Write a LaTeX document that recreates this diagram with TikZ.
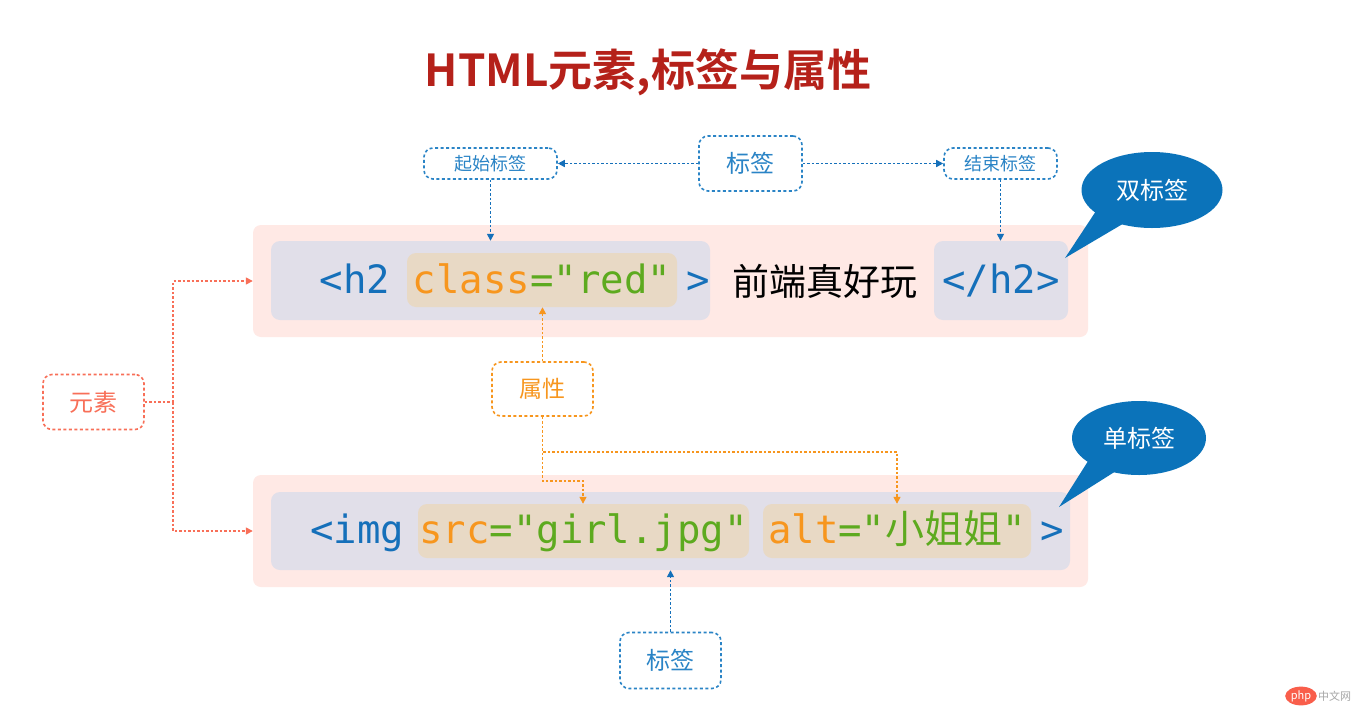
\documentclass[tikz,border=0pt]{standalone}
\usepackage{fontspec}
\setmainfont{Noto Sans CJK SC}[BoldFont={Noto Sans CJK SC Bold}]
\newfontfamily\cjkf{Noto Sans CJK SC}
\newfontfamily\mono{DejaVu Sans Mono}[Ligatures=TeXOff]
\usetikzlibrary{arrows.meta,shapes.geometric}
\definecolor{titlered}{HTML}{B5211A}
\definecolor{tagblue}{HTML}{1570BA}
\definecolor{lblblue}{HTML}{2A84C6}
\definecolor{callblue}{HTML}{0B73BA}
\definecolor{attrorange}{HTML}{F7961E}
\definecolor{valgreen}{HTML}{5DAA1F}
\definecolor{elemred}{HTML}{F86F58}
\definecolor{pinkbg}{HTML}{FFE9E5}
\definecolor{graybg}{HTML}{E1DFE9}
\definecolor{beigebg}{HTML}{E8D9C5}
\begin{document}
\begin{tikzpicture}[x=1pt,y=-1pt,
  outerbox/.style={fill=pinkbg, rounded corners=8pt, inner sep=0pt},
  innerbox/.style={fill=graybg, rounded corners=9pt, inner sep=0pt},
  attrbox/.style={fill=beigebg, rounded corners=9pt, inner sep=0pt},
  code/.style={font=\mono\fontsize{39}{39}\selectfont, inner sep=0pt},
  dashbox/.style={rounded corners=9pt, line width=1.6pt, dash pattern=on 3pt off 2.5pt, inner sep=0pt},
  tagbox/.style={dashbox, draw=lblblue, text=lblblue, font=\fontsize{24}{24}\selectfont},
  smalltag/.style={dashbox, draw=lblblue, text=lblblue, font=\fontsize{18}{18}\selectfont},
  proplabel/.style={dashbox, draw=attrorange, text=attrorange, font=\fontsize{23}{23}\selectfont},
  elemlabel/.style={dashbox, draw=elemred, text=elemred, font=\fontsize{24}{24}\selectfont},
  conn/.style={line width=1.5pt, dash pattern=on 2.5pt off 2pt, -{Triangle[length=7pt,width=7pt]}},
  bconn/.style={conn, draw=tagblue},
  oconn/.style={conn, draw=attrorange},
  rline/.style={line width=1.5pt, dash pattern=on 2.5pt off 2pt, draw=elemred},
  rconn/.style={conn, draw=elemred},
  bubble/.style={ellipse, fill=callblue, text=white, inner sep=0pt, font=\fontsize{24}{24}\selectfont}
]
\useasboundingbox[fill=white] (0,0) rectangle (1360,707);

% title
\node[text=titlered, font=\bfseries\fontsize{44}{44}\selectfont] (title) at (648,72) {HTML元素,标签与属性};

% row 1
\node[outerbox, minimum width=835pt, minimum height=112pt] (row1) at (670.5,281) {};
\node[innerbox, minimum width=439pt, minimum height=79pt] (g1) at (490.5,280.5) {};
\node[attrbox, minimum width=270pt, minimum height=54pt] (cls) at (542,280) {};
\node[innerbox, minimum width=134pt, minimum height=79pt] (g2) at (1001,280.5) {};
\node[code, text=tagblue, anchor=base] (h2o) at (355,293) {<h2};
\node[code, anchor=base] (clst) at (542,293) {\textcolor{attrorange}{class}\textcolor{valgreen}{="red"}};
\node[code, text=tagblue, anchor=base] (gt1) at (698,293) {>};
\node[font=\fontsize{37}{37}\selectfont, anchor=base, inner sep=0pt] (txt) at (825,295) {前端真好玩};
\node[code, text=tagblue, anchor=base] (h2c) at (1001,293) {</h2>};

% row 2
\node[outerbox, minimum width=835pt, minimum height=112pt] (row2) at (670.5,531) {};
\node[innerbox, minimum width=799pt, minimum height=78pt] (g3) at (670.5,531) {};
\node[attrbox, minimum width=331pt, minimum height=54pt] (src) at (583.5,531) {};
\node[attrbox, minimum width=268pt, minimum height=54pt] (alt) at (897,531) {};
\node[code, text=tagblue, anchor=base] (imgo) at (357,543) {<img};
\node[code, anchor=base] (srct) at (583.5,543) {\textcolor{attrorange}{src}\textcolor{valgreen}{="girl.jpg"}};
\node[code, anchor=base] (altt) at (897,543) {\textcolor{attrorange}{alt}\textcolor{valgreen}{="{\cjkf 小姐姐}"}};
\node[code, text=tagblue, anchor=base] (gt2) at (1052,543) {>};

% top tag labels
\node[tagbox, minimum width=103pt, minimum height=55pt] (tagtop) at (750.5,163.5) {标签};
\node[smalltag, minimum width=133pt, minimum height=31pt] (start) at (490.5,163.5) {起始标签};
\node[smalltag, minimum width=113pt, minimum height=31pt] (end) at (1000.5,163.5) {结束标签};
\draw[bconn] (tagtop) -- (start);
\draw[bconn] (tagtop) -- (end);
\draw[bconn] (start.south) -- (start.south |- g1.north);
\draw[bconn] (end.south) -- (end.south |- g2.north);

% attribute label
\node[proplabel, minimum width=101pt, minimum height=54pt] (prop) at (542.5,389) {属性};
\draw[oconn] (prop.north) -- (prop.north |- cls.south);
\coordinate (j1) at (583,481);
\coordinate (j2) at (897,452);
\draw[oconn] (prop.south) |- (j1) -- (j1 |- src.north);
\draw[oconn] (prop.south) |- (j2) -- (j2 |- alt.north);

% element label
\node[elemlabel, minimum width=101pt, minimum height=55pt] (elem) at (93.5,402) {元素};
\coordinate (ej) at (173,402);
\draw[rline] (elem.east) -- (ej);
\draw[rconn] (ej) |- (row1.west);
\draw[rconn] (ej) |- (row2.west);

% bottom tag label
\node[tagbox, minimum width=101pt, minimum height=56pt] (tagbot) at (670.5,660.5) {标签};
\draw[bconn] (tagbot.north) -- (tagbot.north |- g3.south);

% callouts
\coordinate (dtip) at (1065,258);
\fill[callblue] (1098,208) -- (dtip) -- (1126,222) -- cycle;
\node[bubble, minimum width=141pt, minimum height=76pt] (dbl) at (1152,190) {双标签};
\coordinate (stip) at (1059,507);
\fill[callblue] (1090,458) -- (stip) -- (1116,471) -- cycle;
\node[bubble, minimum width=134pt, minimum height=74pt] (sgl) at (1139,438) {单标签};

% watermark
\node[ellipse, fill=elemred!85!red, text=white, inner sep=1pt, minimum width=30pt, minimum height=15pt, font=\itshape\fontsize{11}{11}\selectfont] (php) at (1301,696) {php};
\node[text=gray!70, font=\fontsize{11}{11}\selectfont, anchor=west, inner sep=0pt] (cnw) at (1318,696) {中文网};
\end{tikzpicture}
\end{document}
